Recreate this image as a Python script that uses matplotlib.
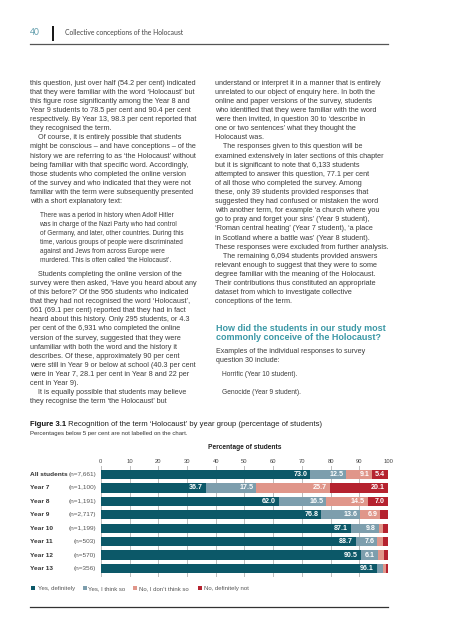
import matplotlib
matplotlib.use("Agg")
import matplotlib.pyplot as plt
from matplotlib.patches import Rectangle
from matplotlib.lines import Line2D

# ---------------- data ----------------
categories = ["All students", "Year 7", "Year 8", "Year 9", "Year 10", "Year 11", "Year 12", "Year 13"]
sample_sizes = ["(n=7,661)", "(n=1,100)", "(n=1,191)", "(n=2,717)", "(n=1,199)", "(n=503)", "(n=570)", "(n=356)"]
yes_definitely = [73.0, 36.7, 62.0, 76.8, 87.1, 88.7, 90.5, 96.1]
yes_think_so = [12.5, 17.5, 16.5, 13.6, 9.8, 7.6, 6.1, 2.2]
no_dont_think = [9.1, 25.7, 14.5, 6.9, 1.5, 2.0, 2.0, 1.0]
no_definitely = [5.4, 20.1, 7.0, 2.7, 1.6, 1.7, 1.4, 0.7]
series_names = ["Yes, definitely", "Yes, I think so", "No, I don\u2019t think so", "No, definitely not"]
ticks = [0, 10, 20, 30, 40, 50, 60, 70, 80, 90, 100]

left_col = [
    "this question, just over half (54.2 per cent) indicated",
    "that they were familiar with the word \u2018Holocaust\u2019 but",
    "this figure rose significantly among the Year 8 and",
    "Year 9 students to 78.5 per cent and 90.4 per cent",
    "respectively. By Year 13, 98.3 per cent reported that",
    "they recognised the term.",
    "    Of course, it is entirely possible that students",
    "might be conscious \u2013 and have conceptions \u2013 of the",
    "history we are referring to as \u2018the Holocaust\u2019 without",
    "being familiar with that specific word. Accordingly,",
    "those students who completed the online version",
    "of the survey and who indicated that they were not",
    "familiar with the term were subsequently presented",
    "with a short explanatory text:",
]
quote = [
    "There was a period in history when Adolf Hitler",
    "was in charge of the Nazi Party who had control",
    "of Germany, and later, other countries. During this",
    "time, various groups of people were discriminated",
    "against and Jews from across Europe were",
    "murdered. This is often called \u2018the Holocaust\u2019.",
]
left_col2 = [
    "    Students completing the online version of the",
    "survey were then asked, \u2018Have you heard about any",
    "of this before?\u2019 Of the 956 students who indicated",
    "that they had not recognised the word \u2018Holocaust\u2019,",
    "661 (69.1 per cent) reported that they had in fact",
    "heard about this history. Only 295 students, or 4.3",
    "per cent of the 6,931 who completed the online",
    "version of the survey, suggested that they were",
    "unfamiliar with both the word and the history it",
    "describes. Of these, approximately 90 per cent",
    "were still in Year 9 or below at school (40.3 per cent",
    "were in Year 7, 28.1 per cent in Year 8 and 22 per",
    "cent in Year 9).",
    "    It is equally possible that students may believe",
    "they recognise the term \u2018the Holocaust\u2019 but",
]
right_col = [
    "understand or interpret it in a manner that is entirely",
    "unrelated to our object of enquiry here. In both the",
    "online and paper versions of the survey, students",
    "who identified that they were familiar with the word",
    "were then invited, in question 30 to \u2018describe in",
    "one or two sentences\u2019 what they thought the",
    "Holocaust was.",
    "    The responses given to this question will be",
    "examined extensively in later sections of this chapter",
    "but it is significant to note that 6,133 students",
    "attempted to answer this question, 77.1 per cent",
    "of all those who completed the survey. Among",
    "these, only 39 students provided responses that",
    "suggested they had confused or mistaken the word",
    "with another term, for example \u2018a church where you",
    "go to pray and forget your sins\u2019 (Year 9 student),",
    "\u2018Roman central heating\u2019 (Year 7 student), \u2018a place",
    "in Scotland where a battle was\u2019 (Year 8 student).",
    "These responses were excluded from further analysis.",
    "    The remaining 6,094 students provided answers",
    "relevant enough to suggest that they were to some",
    "degree familiar with the meaning of the Holocaust.",
    "Their contributions thus constituted an appropriate",
    "dataset from which to investigate collective",
    "conceptions of the term.",
]
heading = ["How did the students in our study most", "commonly conceive of the Holocaust?"]
examples_intro = ["Examples of the individual responses to survey", "question 30 include:"]
examples = ["Horrific (Year 10 student).", "Genocide (Year 9 student)."]

# ---------------- styling ----------------
W, H = 453, 640
colors = ["#0c5868", "#7d9ead", "#e0968a", "#b5222f"]
body_color = "#3c3c3c"
FONT = "Liberation Sans"

fig = plt.figure(figsize=(W / 100, H / 100), dpi=100)
fig.patch.set_facecolor("white")
renderer = fig.canvas.get_renderer()


def fx(x):
    return x / W


def fy(y):
    return 1 - y / H


def size_for(s, width, **kw):
    t = fig.text(0, 0, s, fontsize=10, family=FONT, **kw)
    w = t.get_window_extent(renderer=renderer).width
    t.remove()
    return 10 * width / w


def put(x, y, s, size, **kw):
    kw.setdefault("family", FONT)
    kw.setdefault("va", "center")
    return fig.text(fx(x), fy(y), s, fontsize=size, **kw)


# header
hdr_font = "Lato"
put(30, 32.5, "40", size_for("40", 10, family=hdr_font) if False else 6.2, color="#5f9cab", family=hdr_font)
fig.patches.append(Rectangle((fx(51.5), fy(40.7)), 2.6 / W, 15 / H, transform=fig.transFigure,
                             facecolor="#1a1a1a", edgecolor="none"))
put(65, 33, "Collective conceptions of the Holocaust", 4.9, color="#444444", family=hdr_font)
fig.lines.append(Line2D([fx(30), fx(388)], [fy(43.7), fy(43.7)], transform=fig.transFigure,
                        color="#555555", lw=0.9))

# body text
body_size = size_for(left_col[0], 166)
quote_size = size_for(quote[0], 136)
sp = 9.1
for i, s in enumerate(left_col):
    put(30, 83.3 + i * sp, s, body_size, color=body_color)
for i, s in enumerate(quote):
    put(39.5, 215.3 + i * sp, s, quote_size, color=body_color)
for i, s in enumerate(left_col2):
    put(30, 274.3 + i * sp, s, body_size, color=body_color)
for i, s in enumerate(right_col):
    put(215, 83.3 + i * sp, s, body_size, color=body_color)

head_size = size_for(heading[0], 168.5, weight="bold")
for i, s in enumerate(heading):
    put(215.5, 328.3 + i * 9.0, s, head_size, color="#3c98a6", weight="bold")
intro_size = size_for(examples_intro[0], 150)
for i, s in enumerate(examples_intro):
    put(215.5, 351.7 + i * 9.0, s, intro_size, color=body_color)
ex_size = size_for(examples[0], 76)
put(222, 375.0, examples[0], ex_size, color=body_color)
put(222, 392.7, examples[1], ex_size, color=body_color)

# caption
cap_b = "Figure 3.1"
cap_r = " Recognition of the term \u2018Holocaust\u2019 by year group (percentage of students)"
cap_size = size_for(cap_b + cap_r, 288)
tb = put(30, 424.3, cap_b, cap_size, color="#111111", weight="bold")
bw = tb.get_window_extent(renderer=renderer).width
put(30 + bw, 424.3, cap_r, cap_size, color="#222222")
sub = "Percentages below 5 per cent are not labelled on the chart."
put(30, 434.0, sub, size_for(sub, 159), color="#333333")
xlabel = "Percentage of students"
put(244.7, 447.7, xlabel, size_for(xlabel, 73, weight="bold"), color="#222222",
    weight="bold", ha="center")

# ---------------- chart ----------------
ax_left, ax_right, ax_top, ax_bot = 100.8, 388.0, 466.0, 577.0
row0, rowsp = 474.5, 13.43
ax = fig.add_axes([fx(ax_left), fy(ax_bot), (ax_right - ax_left) / W, (ax_bot - ax_top) / H])
ax.set_xlim(0, 100)
ax.set_ylim(7 + (ax_bot - (row0 + 7 * rowsp)) / rowsp, -(row0 - ax_top) / rowsp)
for sp_ in ax.spines.values():
    sp_.set_visible(False)
ax.set_facecolor("none")
ax.set_yticks([])
ax.set_xticks(ticks)
ax.xaxis.tick_top()
tick_size = size_for("10", 6.5)
ax.tick_params(axis="x", length=0, pad=1.5, labelsize=tick_size, labelcolor="#444444")
for lab in ax.get_xticklabels():
    lab.set_family(FONT)
ax.grid(axis="x", color="#bdbdbd", lw=0.7, zorder=0)
ax.set_axisbelow(True)

series = [yes_definitely, yes_think_so, no_dont_think, no_definitely]
ypos = list(range(len(categories)))
lefts = [0.0] * len(categories)
val_size = size_for("73.0", 14, weight="bold")
for vals, c in zip(series, colors):
    ax.barh(ypos, vals, left=lefts, height=0.69, color=c, edgecolor="none", zorder=2)
    for i, v in enumerate(vals):
        if v >= 5:
            ax.annotate(f"{v:.1f}", (lefts[i] + v, i), xytext=(-3, 0), textcoords="offset pixels",
                        ha="right", va="center", color="white", fontsize=val_size,
                        weight="bold", family=FONT, zorder=3)
    lefts = [l + v for l, v in zip(lefts, vals)]

cat_size = size_for("All students", 37.3, weight="bold")
n_size = size_for("(n=7,661)", 27.7)
for i, (c, n) in enumerate(zip(categories, sample_sizes)):
    y = row0 + i * rowsp
    put(30, y, c, cat_size, weight="bold", color="#333333")
    put(96.5, y, n, n_size, ha="right", color="#555555")

# legend
leg_size = size_for(series_names[0], 36.7)
leg_sq = [30.7, 82.7, 133.3, 198.3]
leg_tx = [38.3, 88.3, 139.3, 204.0]
for sx, tx, name, c in zip(leg_sq, leg_tx, series_names, colors):
    fig.patches.append(Rectangle((fx(sx), fy(590.3)), 4 / W, 4 / H, transform=fig.transFigure,
                                 facecolor=c, edgecolor="none"))
    put(tx, 588.3, name, leg_size, color="#555555")

fig.lines.append(Line2D([fx(30), fx(388)], [fy(607), fy(607)], transform=fig.transFigure,
                        color="#333333", lw=0.9))

fig.savefig("out.png", dpi=100, facecolor="white")
